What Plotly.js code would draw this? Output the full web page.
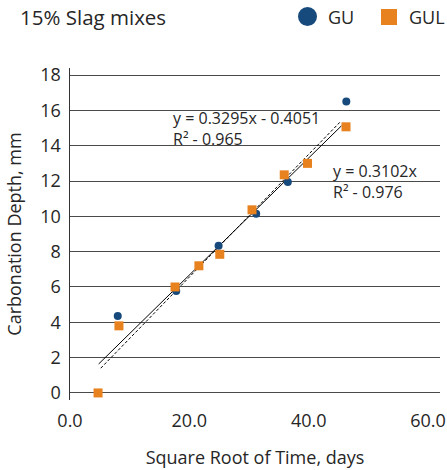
<!DOCTYPE html>
<html>
<head>
<meta charset="utf-8">
<script src="https://cdn.plot.ly/plotly-3.0.1.min.js"></script>
<style>html,body{margin:0;padding:0;background:#fff;}#chart{width:447px;height:470px;}</style>
</head>
<body>
<div id="chart"></div>
<script>
// Series
const guX = [8.0, 17.8, 24.9, 31.2, 36.5, 46.3];
const guY = [4.35, 5.77, 8.33, 10.15, 11.95, 16.5];
const gulX = [4.7, 8.2, 17.6, 21.6, 25.1, 30.5, 35.9, 39.8, 46.25];
const gulY = [0, 3.8, 6.0, 7.2, 7.85, 10.37, 12.35, 13.0, 15.07];
// Trend line end points as drawn in the reference
const trendSolidX = [4.8, 45.5];
const trendSolidY = [1.64, 15.13];
const trendDashX = [5.15, 45.2];
const trendDashY = [1.40, 15.32];
const xTicks = [0, 20, 40, 60];
const xTickText = ["0.0", "20.0", "40.0", "60.0"];
const yTicks = [0, 2, 4, 6, 8, 10, 12, 14, 16, 18];

const FONT = "Open Sans, Noto Sans, sans-serif";
const TXT = "#262626";

const data = [
  {x: trendSolidX, y: trendSolidY, mode: "lines", line: {color: "#000", width: 1}, showlegend: false, hoverinfo: "skip"},
  {x: trendDashX, y: trendDashY, mode: "lines", line: {color: "#000", width: 1, dash: "3px,2px"}, showlegend: false, hoverinfo: "skip"},
  {x: guX, y: guY, mode: "markers", name: "GU", marker: {symbol: "circle", size: 8, color: "#174a7c"}, showlegend: false},
  {x: gulX, y: gulY, mode: "markers", name: "GUL", marker: {symbol: "square", size: 9, color: "#e8821e"}, showlegend: false}
];

const layout = {
  width: 447, height: 470,
  margin: {l: 70, r: 7, t: 68, b: 70},
  paper_bgcolor: "#fff", plot_bgcolor: "#fff",
  font: {family: FONT, color: TXT, size: 18},
  showlegend: false,
  xaxis: {
    range: [0, 62], tickvals: xTicks, ticktext: xTickText,
    showgrid: false, zeroline: false, showline: false, ticks: "",
    ticklabeloverflow: "allow", ticklabelstandoff: 8,
    tickfont: {size: 18, color: TXT},
    title: {text: "Square Root of Time, days", font: {size: 18, color: TXT}, standoff: 20}
  },
  yaxis: {
    range: [-0.4, 18.4], tickvals: yTicks,
    showgrid: true, gridcolor: "#4a4a4a", gridwidth: 1,
    zeroline: false, showline: true, linecolor: "#333", linewidth: 1.5, ticks: "",
    ticklabelstandoff: 4,
    tickfont: {size: 18, color: TXT},
    title: {text: "Carbonation Depth, mm", font: {size: 18, color: TXT}, standoff: 14}
  },
  annotations: [
    {xref: "paper", yref: "paper", x: -0.1405, y: 1.155, xanchor: "left", yanchor: "middle", text: "15% Slag mixes", showarrow: false, font: {size: 20.5, color: TXT}},
    {xref: "paper", yref: "paper", x: 0.6911, y: 1.1551, xanchor: "left", yanchor: "middle", text: "GU", showarrow: false, font: {size: 18, color: TXT}},
    {xref: "paper", yref: "paper", x: 0.91, y: 1.1551, xanchor: "left", yanchor: "middle", text: "GUL", showarrow: false, font: {size: 18, color: TXT}},
    {x: 16.9, y: 15.0, xanchor: "left", yanchor: "middle", align: "left", text: "y = 0.3295x - 0.4051<br>R² - 0.965", showarrow: false, font: {size: 16, color: TXT}},
    {x: 43.8, y: 11.98, xanchor: "left", yanchor: "middle", align: "left", text: "y = 0.3102x<br>R² - 0.976", showarrow: false, font: {size: 16, color: TXT}}
  ],
  shapes: [
    {type: "circle", xref: "paper", yref: "paper", xsizemode: "pixel", ysizemode: "pixel", xanchor: 0.6419, yanchor: 1.1551, x0: -9.5, x1: 9.5, y0: -9.5, y1: 9.5, fillcolor: "#174a7c", line: {width: 0}},
    {type: "rect", xref: "paper", yref: "paper", xsizemode: "pixel", ysizemode: "pixel", xanchor: 0.8622, yanchor: 1.1536, x0: -8, x1: 8, y0: -8, y1: 8, fillcolor: "#e8821e", line: {width: 0}}
  ]
};

Plotly.newPlot("chart", data, layout, {displayModeBar: false, staticPlot: true});
</script>
</body>
</html>
